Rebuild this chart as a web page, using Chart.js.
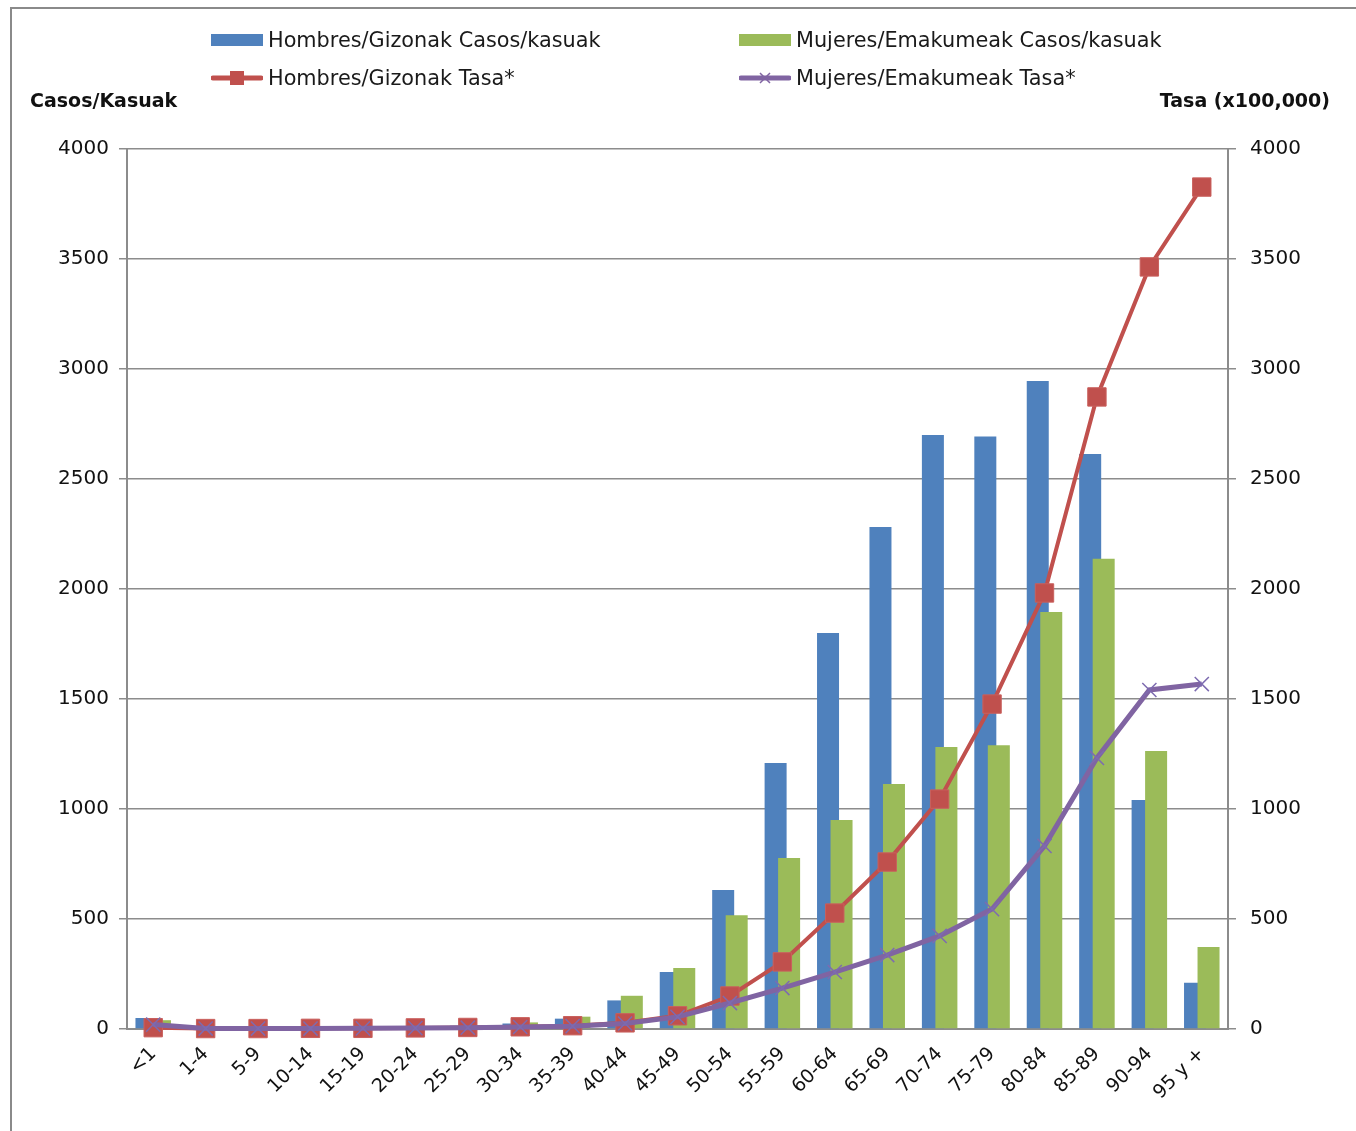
<!DOCTYPE html>
<html lang="es">
<head>
    <meta charset="UTF-8">
    <title>Casos y tasa por edad</title>
    <style>
        body {
            margin: 0;
            padding: 0;
            background: #fff;
            font-family: "DejaVu Sans", sans-serif;
            overflow: hidden;
        }
        .frame {
            position: absolute;
            left: 10px;
            top: 7px;
            width: 1400px;
            height: 1200px;
            border-left: 2px solid #8a8a8a;
            border-top: 2px solid #8a8a8a;
        }
        .wrap {
            position: absolute;
            left: 0;
            top: 0;
            width: 1356px;
            height: 1131px;
        }
        .legend-item {
            position: absolute;
            display: flex;
            align-items: center;
            font-size: 20.8px;
            color: #1a1a1a;
            white-space: nowrap;
        }
        .legend-item svg { margin-right: 5px; }
        .axis-title {
            position: absolute;
            font-weight: bold;
            font-size: 19px;
            color: #111;
        }
    </style>
    <script src="https://cdn.jsdelivr.net/npm/chart.js"></script>
</head>
<body>

<div class="frame"></div>
<div class="wrap"><canvas id="chart"></canvas></div>
<div id="legend"></div>
<div class="axis-title" style="left:30px; top:89px;">Casos/Kasuak</div>
<div class="axis-title" style="right:26px; top:89px;">Tasa (x100,000)</div>

<script>
    // Age groups
    const edades = ['<1', '1-4', '5-9', '10-14', '15-19', '20-24', '25-29', '30-34', '35-39', '40-44',
        '45-49', '50-54', '55-59', '60-64', '65-69', '70-74', '75-79', '80-84', '85-89', '90-94', '95 y +'];

    // Cases (left axis)
    const hombresCasos = [50, 5, 5, 6, 8, 10, 15, 25, 47, 130, 259, 632, 1209, 1800, 2282, 2700, 2693, 2945, 2614, 1041, 210];
    const mujeresCasos = [40, 4, 4, 5, 6, 8, 12, 30, 56, 151, 277, 517, 777, 950, 1114, 1282, 1290, 1895, 2137, 1264, 373];

    // Rates per 100,000 (right axis)
    const hombresTasa = [6, 2, 2, 3, 3, 5, 7, 10, 15, 28, 60, 150, 305, 527, 759, 1045, 1477, 1982, 2873, 3464, 3827];
    const mujeresTasa = [20, 2, 2, 2, 3, 4, 6, 9, 13, 25, 55, 118, 186, 259, 336, 423, 545, 832, 1232, 1541, 1568];

    const labels = {
        hc: 'Hombres/Gizonak Casos/kasuak',
        mc: 'Mujeres/Emakumeak Casos/kasuak',
        ht: 'Hombres/Gizonak Tasa*',
        mt: 'Mujeres/Emakumeak Tasa*'
    };

    const blue = '#4F81BD', green = '#9BBB59', red = '#C0504D', purple = '#8064A2';
    const gridColor = '#8c8c8c';
    const tickFont = { family: 'DejaVu Sans', size: 20 };
    const plainNumber = v => String(v);

    // Excel-style overlap: blue bar first, green bar drawn over it
    const barOverlap = {
        id: 'barOverlap',
        beforeDatasetDraw(chart, args) {
            if (args.index === 0) return false;
            if (args.index === 1) chart.getDatasetMeta(0).controller.draw();
        }
    };

    const ctx = document.getElementById('chart').getContext('2d');
    const chart = new Chart(ctx, {
        type: 'bar',
        data: {
            labels: edades,
            datasets: [
                {
                    label: labels.hc,
                    data: hombresCasos,
                    backgroundColor: blue,
                    yAxisID: 'y',
                    order: 2,
                    categoryPercentage: 0.515,
                    barPercentage: 1.63
                },
                {
                    label: labels.mc,
                    data: mujeresCasos,
                    backgroundColor: green,
                    yAxisID: 'y',
                    order: 3,
                    categoryPercentage: 0.515,
                    barPercentage: 1.63
                },
                {
                    type: 'line',
                    label: labels.ht,
                    data: hombresTasa,
                    borderColor: red,
                    borderWidth: 4,
                    backgroundColor: red,
                    pointStyle: 'rect',
                    pointRadius: 13,
                    pointBorderColor: '#c9605d',
                    pointBorderWidth: 1,
                    tension: 0,
                    clip: false,
                    yAxisID: 'y1',
                    order: 1
                },
                {
                    type: 'line',
                    label: labels.mt,
                    data: mujeresTasa,
                    borderColor: purple,
                    borderWidth: 5,
                    backgroundColor: purple,
                    pointStyle: 'crossRot',
                    pointRadius: 10,
                    pointBorderColor: '#7d6bb0',
                    pointBorderWidth: 1.5,
                    tension: 0,
                    clip: false,
                    yAxisID: 'y1',
                    order: 0
                }
            ]
        },
        options: {
            responsive: true,
            maintainAspectRatio: false,
            animation: false,
            layout: { padding: { top: 149, left: 0, right: 0, bottom: 0 } },
            plugins: {
                legend: { display: false },
                tooltip: { enabled: false }
            },
            scales: {
                x: {
                    grid: { display: false },
                    border: { display: true, color: gridColor, width: 2 },
                    ticks: {
                        color: '#111',
                        font: { family: 'DejaVu Sans', size: 19 },
                        minRotation: 45,
                        maxRotation: 45,
                        autoSkip: false,
                        padding: 6
                    },
                    afterFit(s) { s.height = 102; }
                },
                y: {
                    position: 'left',
                    min: 0,
                    max: 4000,
                    ticks: { stepSize: 500, color: '#111', font: tickFont, padding: 10, callback: plainNumber },
                    grid: { color: gridColor, lineWidth: 1.5, tickLength: 8, tickColor: gridColor },
                    border: { color: gridColor, width: 2 },
                    afterFit(s) { s.width = 127; }
                },
                y1: {
                    position: 'right',
                    min: 0,
                    max: 4000,
                    ticks: { stepSize: 500, color: '#111', font: tickFont, padding: 14, callback: plainNumber },
                    grid: { drawOnChartArea: false, tickLength: 8, tickColor: gridColor, lineWidth: 1.5 },
                    border: { color: gridColor, width: 2 },
                    afterFit(s) { s.width = 128; }
                }
            }
        },
        plugins: [barOverlap]
    });

    // HTML legend in two columns, like the original
    function swatch(kind, color) {
        if (kind === 'bar') {
            return '<svg width="52" height="20"><rect x="0" y="4" width="52" height="12" fill="' + color + '"/></svg>';
        }
        let marker = '';
        if (kind === 'rect') {
            marker = '<rect x="19" y="3" width="14" height="14" fill="' + color + '"/>';
        } else {
            marker = '<path d="M21 5 L31 15 M31 5 L21 15" stroke="' + color + '" stroke-width="1.5"/>';
        }
        return '<svg width="52" height="20"><line x1="2" y1="10" x2="50" y2="10" stroke="' + color +
            '" stroke-width="5" stroke-linecap="round"/>' + marker + '</svg>';
    }

    const legendItems = [
        { text: labels.hc, kind: 'bar', color: blue, left: 211, top: 40 },
        { text: labels.mc, kind: 'bar', color: green, left: 739, top: 40 },
        { text: labels.ht, kind: 'rect', color: red, left: 211, top: 78 },
        { text: labels.mt, kind: 'cross', color: purple, left: 739, top: 78 }
    ];
    const legendEl = document.getElementById('legend');
    legendItems.forEach(item => {
        const div = document.createElement('div');
        div.className = 'legend-item';
        div.style.left = item.left + 'px';
        div.style.top = (item.top - 12) + 'px';
        div.innerHTML = swatch(item.kind, item.color) + '<span>' + item.text + '</span>';
        legendEl.appendChild(div);
    });
</script>

</body>
</html>
